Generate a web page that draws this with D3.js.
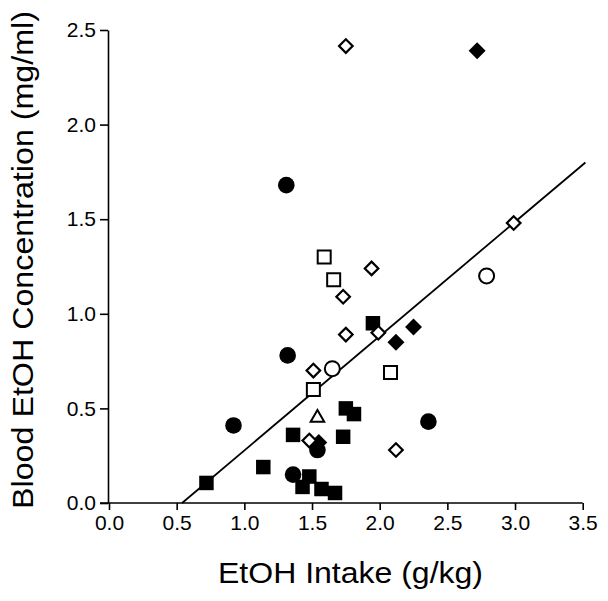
<!DOCTYPE html>
<html>
<head>
<meta charset="utf-8">
<script src="https://cdn.jsdelivr.net/npm/d3@7"></script>
<style>
  html, body { margin: 0; padding: 0; background: #fff; }
  svg { display: block; }
  text { font-family: "Liberation Sans", Arial, Helvetica, sans-serif; fill: #000; }
</style>
</head>
<body>
<svg id="chart" width="608" height="601"></svg>
<script>
// ---- Data ----
const xTicks = [0.0, 0.5, 1.0, 1.5, 2.0, 2.5, 3.0, 3.5];
const yTicks = [0.0, 0.5, 1.0, 1.5, 2.0, 2.5];

const openDiamondX  = [1.75, 2.99, 1.94, 1.73, 1.75, 1.99, 1.51, 1.48, 2.12];
const openDiamondY  = [2.415, 1.48, 1.24, 1.09, 0.89, 0.90, 0.70, 0.33, 0.28];

const filledDiamondX = [2.72, 2.25, 2.12, 1.55];
const filledDiamondY = [2.39, 0.93, 0.85, 0.32];

const filledCircleX = [1.31, 1.32, 0.92, 2.36, 1.54, 1.36];
const filledCircleY = [1.68, 0.78, 0.41, 0.43, 0.28, 0.15];

const openCircleX = [2.79, 1.65];
const openCircleY = [1.20, 0.71];

const openSquareX = [1.59, 1.66, 2.08, 1.51];
const openSquareY = [1.30, 1.18, 0.69, 0.60];

const openTriangleX = [1.54];
const openTriangleY = [0.45];

const filledSquareX = [1.95, 1.75, 1.81, 1.73, 1.36, 1.14, 1.48, 1.43, 1.57, 1.67, 0.72];
const filledSquareY = [0.95, 0.50, 0.47, 0.35, 0.36, 0.19, 0.14, 0.085, 0.074, 0.053, 0.106];

const fitLineX = [0.54, 3.52];
const fitLineY = [0.0, 1.80];

const xTitle = "EtOH Intake (g/kg)";
const yTitle = "Blood EtOH Concentration (mg/ml)";

// ---- Layout ----
const svg = d3.select("#chart");
const mLeft = 109, mRight = 582.7, mTop = 30, mBottom = 503;

const x = d3.scaleLinear().domain([0, 3.5]).range([mLeft, mRight]);
const y = d3.scaleLinear().domain([0, 2.5]).range([mBottom, mTop]);

// Axes
const xAxis = d3.axisBottom(x).tickValues(xTicks).tickFormat(d3.format(".1f")).tickSize(7).tickPadding(5).tickSizeOuter(0);
const yAxis = d3.axisLeft(y).tickValues(yTicks).tickFormat(d3.format(".1f")).tickSize(8).tickPadding(4).tickSizeOuter(0);

const gx = svg.append("g").attr("transform", `translate(0,${mBottom})`).call(xAxis);
const gy = svg.append("g").attr("transform", `translate(${mLeft - 1},0)`).call(yAxis);

[gx, gy].forEach(g => {
  g.select(".domain").attr("stroke", "#000").attr("stroke-width", 1.6);
  g.selectAll(".tick line").attr("stroke", "#000").attr("stroke-width", 1.6);
  g.selectAll(".tick text").attr("font-size", 21).attr("fill", "#000")
    .style("font-family", '"Liberation Sans", Arial, Helvetica, sans-serif');
});
// extend x axis line to meet y tick at 0
gx.select(".domain").attr("d", `M${mLeft - 9},0H${mRight}`);

// Regression line
svg.append("line")
  .attr("x1", x(fitLineX[0])).attr("y1", y(fitLineY[0]))
  .attr("x2", x(fitLineX[1])).attr("y2", y(fitLineY[1]))
  .attr("stroke", "#000").attr("stroke-width", 1.8);

// Markers
const marks = svg.append("g");
function plot(xs, ys, symType, size, filled, rotate, sw) {
  const path = d3.symbol().type(symType).size(size)();
  xs.forEach((xv, i) => {
    marks.append("path")
      .attr("d", path)
      .attr("transform", `translate(${x(xv)},${y(ys[i])}) rotate(${rotate})`)
      .attr("fill", filled ? "#000" : "#fff")
      .attr("stroke", "#000")
      .attr("stroke-width", filled ? 0 : sw);
  });
}

plot(filledSquareX, filledSquareY, d3.symbolSquare, 14.5 * 14.5, true, 0, 0);
plot(filledCircleX, filledCircleY, d3.symbolCircle, Math.PI * 8.3 * 8.3, true, 0, 0);
plot(filledDiamondX, filledDiamondY, d3.symbolSquare, 12 * 12, true, 45, 0);
plot(openSquareX, openSquareY, d3.symbolSquare, 13 * 13, false, 0, 2);
plot(openCircleX, openCircleY, d3.symbolCircle, Math.PI * 7.5 * 7.5, false, 0, 2);
plot(openTriangleX, openTriangleY, d3.symbolTriangle, 80, false, 0, 2);
plot(openDiamondX, openDiamondY, d3.symbolSquare, 9.6 * 9.6, false, 45, 2.2);

// Titles
svg.append("text")
  .attr("x", (218 + 483) / 2).attr("y", 583)
  .attr("text-anchor", "middle")
  .attr("font-size", 29)
  .attr("textLength", 265).attr("lengthAdjust", "spacingAndGlyphs")
  .text(xTitle);

svg.append("text")
  .attr("transform", `translate(33,260) rotate(-90)`)
  .attr("text-anchor", "middle")
  .attr("font-size", 29)
  .attr("textLength", 498).attr("lengthAdjust", "spacingAndGlyphs")
  .text(yTitle);
</script>
</body>
</html>
